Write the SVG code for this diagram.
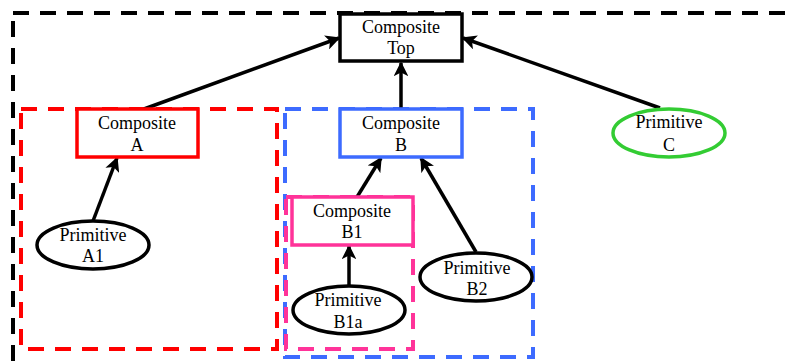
<svg xmlns="http://www.w3.org/2000/svg" width="795" height="362" viewBox="0 0 795 362">
<style>
  .dash { fill: none; stroke-width: 4; stroke-dasharray: 16 11; }
  .box { fill: #ffffff; stroke-width: 3.5; }
  .prim { fill: #ffffff; stroke-width: 3.5; }
  .lbl { font-family: "Liberation Serif", "Times New Roman", serif; font-size: 18px; fill: #000000; text-anchor: middle; }
  .edge { stroke: #000000; stroke-width: 3.5; fill: none; marker-end: url(#arr); }
</style>
<defs>
  <marker id="arr" viewBox="0 0 10 10" refX="9" refY="5" markerWidth="4.2" markerHeight="4.2" orient="auto" markerUnits="strokeWidth">
    <path d="M0,0 L10,5 L0,10 L2.5,5 Z" fill="#000000"/>
  </marker>
</defs>
<rect width="795" height="362" fill="#ffffff"/>
<g id="containers">
  <rect class="dash" x="13" y="13" width="800" height="400" stroke="#000000"/>
  <rect class="dash" x="21" y="109" width="256" height="240" stroke="#ff0000"/>
  <rect class="dash" x="285" y="109" width="248" height="248" stroke="#3d6bff"/>
  <rect class="dash" x="286" y="197" width="127" height="152" stroke="#ff3399"/>
</g>
<g id="connectors">
  <line class="edge" x1="144" y1="109" x2="339" y2="38"/>
  <line class="edge" x1="401" y1="109" x2="401" y2="63"/>
  <line class="edge" x1="660" y1="108" x2="463" y2="38"/>
  <line class="edge" x1="93" y1="221" x2="117" y2="158"/>
  <line class="edge" x1="357" y1="197" x2="381" y2="158"/>
  <line class="edge" x1="476" y1="252" x2="421" y2="158"/>
  <line class="edge" x1="349" y1="286" x2="349" y2="246"/>
</g>
<g id="top">
  <rect class="box" x="340" y="14" width="122" height="47" stroke="#000000"/>
  <text class="lbl" x="401" y="33">Composite</text>
  <text class="lbl" x="401" y="54">Top</text>
</g>
<g id="compA">
  <rect class="box" x="77" y="109" width="121" height="48" stroke="#ff0000"/>
  <text class="lbl" x="137" y="129">Composite</text>
  <text class="lbl" x="137" y="151">A</text>
</g>
<g id="compB">
  <rect class="box" x="340" y="109" width="122" height="48" stroke="#3d6bff"/>
  <text class="lbl" x="401" y="129">Composite</text>
  <text class="lbl" x="401" y="151">B</text>
</g>
<g id="compB1">
  <rect class="box" x="292" y="197" width="121" height="48" stroke="#ff3399"/>
  <text class="lbl" x="352" y="217">Composite</text>
  <text class="lbl" x="352" y="238">B1</text>
</g>
<g id="primC">
  <ellipse class="prim" cx="669" cy="133" rx="56" ry="24" stroke="#33cc33"/>
  <text class="lbl" x="669" y="128">Primitive</text>
  <text class="lbl" x="669" y="151">C</text>
</g>
<g id="primA1">
  <ellipse class="prim" cx="93" cy="245" rx="56" ry="24" stroke="#000000"/>
  <text class="lbl" x="93" y="241">Primitive</text>
  <text class="lbl" x="93" y="262">A1</text>
</g>
<g id="primB1a">
  <ellipse class="prim" cx="349" cy="310" rx="56" ry="24" stroke="#000000"/>
  <text class="lbl" x="348" y="306">Primitive</text>
  <text class="lbl" x="348" y="328">B1a</text>
</g>
<g id="primB2">
  <ellipse class="prim" cx="476" cy="277" rx="56" ry="24" stroke="#000000"/>
  <text class="lbl" x="477" y="274">Primitive</text>
  <text class="lbl" x="477" y="295">B2</text>
</g>
</svg>
